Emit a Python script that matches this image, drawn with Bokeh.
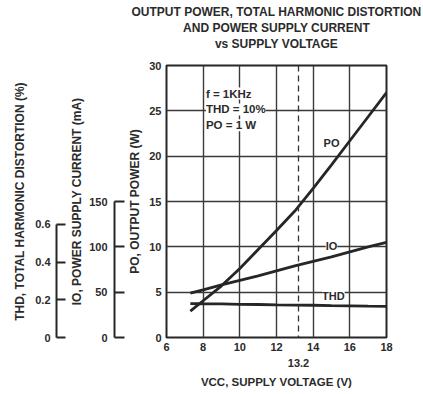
from bokeh.plotting import figure
from bokeh.models import LinearAxis, Range1d, FixedTicker, Span, Label, Title
from bokeh.embed import file_html
from bokeh.resources import INLINE

# ---- data ----
vcc = [7.3, 8, 9, 10, 11, 12, 13, 14, 15, 16, 17, 18]
po_w = [2.9, 4.05, 5.7, 7.6, 9.7, 11.8, 13.95, 16.45, 19.05, 21.7, 24.35, 27.0]
io_ma = [49, 52.5, 58, 63, 68, 73.5, 79, 84, 89, 94.5, 100, 105]
thd_pct = [0.180, 0.179, 0.178, 0.176, 0.175, 0.173, 0.172, 0.171, 0.169, 0.168, 0.166, 0.165]
vcc_ticks = [6, 8, 10, 12, 14, 16, 18]
po_ticks = [0, 5, 10, 15, 20, 25, 30]
io_ticks = [0, 50, 100, 150]
thd_ticks = [0, 0.2, 0.4, 0.6]
vcc_nominal = 13.2
title_lines = ["OUTPUT POWER, TOTAL HARMONIC DISTORTION",
               "AND POWER SUPPLY CURRENT",
               "vs SUPPLY VOLTAGE"]
conditions = ["f = 1KHz", "THD = 10%", "PO = 1 W"]

FONT = "Liberation Sans"
TXT = "#2b2b2b"
INK = "#262626"

p = figure(width=423, height=394, output_backend="svg", toolbar_location=None,
           x_range=Range1d(6, 18), y_range=Range1d(0, 30),
           min_border_left=166, min_border_right=37, min_border_top=65,
           min_border_bottom=57)
p.background_fill_color = "white"
p.border_fill_color = "white"
p.outline_line_color = INK
p.outline_line_width = 2

p.extra_y_ranges = {"io": Range1d(0, 300), "thd": Range1d(0, 1.443)}

def style_axis(ax, size="11px"):
    ax.major_label_text_font = FONT
    ax.major_label_text_font_style = "bold"
    ax.major_label_text_font_size = size
    ax.major_label_text_color = TXT
    ax.axis_label_text_font = FONT
    ax.axis_label_text_font_style = "bold"
    ax.axis_label_text_font_size = "12px"
    ax.axis_label_text_color = TXT
    ax.minor_tick_line_color = None

def spacer(w, tick):
    # invisible axis that only reserves w pixels of room
    s = LinearAxis(ticker=FixedTicker(ticks=[tick]), major_label_overrides={tick: ""})
    s.axis_line_color = None
    s.major_tick_line_color = None
    s.minor_tick_line_color = None
    s.major_tick_out = w
    s.major_tick_in = 0
    s.major_label_standoff = 0
    return s

# main x axis
xa = p.xaxis[0]
xa.ticker = FixedTicker(ticks=vcc_ticks)
style_axis(xa)
xa.axis_line_color = None
xa.major_tick_line_color = None
xa.major_tick_out = 0
xa.major_label_standoff = 5

# second bottom axis with 13.2 label + axis title
xa2 = LinearAxis(ticker=FixedTicker(ticks=[vcc_nominal]))
style_axis(xa2)
xa2.axis_line_color = None
xa2.major_tick_line_color = None
xa2.major_tick_out = 0
xa2.major_label_standoff = 5
xa2.axis_label = "VCC, SUPPLY VOLTAGE (V)"
xa2.axis_label_standoff = 6
xa2.axis_label_text_font_size = "11.5px"
p.add_layout(xa2, "below")

# main y axis (PO)
ya = p.yaxis[0]
ya.ticker = FixedTicker(ticks=po_ticks)
style_axis(ya)
ya.axis_line_color = None
ya.major_tick_line_color = None
ya.major_tick_out = 0
ya.major_label_standoff = 5
ya.axis_label = "PO, OUTPUT POWER (W)"
ya.axis_label_standoff = 4

p.add_layout(spacer(11, 15), "left")

io_ax = LinearAxis(y_range_name="io", ticker=FixedTicker(ticks=io_ticks), bounds=(0, 150))
style_axis(io_ax)
io_ax.axis_line_color = INK
io_ax.axis_line_width = 2
io_ax.major_tick_line_color = INK
io_ax.major_tick_line_width = 2
io_ax.major_tick_in = 10
io_ax.major_tick_out = 0
io_ax.major_label_standoff = 7
io_ax.axis_label = "IO, POWER SUPPLY CURRENT (mA)"
io_ax.axis_label_standoff = 2
p.add_layout(io_ax, "left")

p.add_layout(spacer(11, 15), "left")

thd_ax = LinearAxis(y_range_name="thd", ticker=FixedTicker(ticks=thd_ticks), bounds=(0, 0.6))
style_axis(thd_ax)
thd_ax.axis_line_color = INK
thd_ax.axis_line_width = 2
thd_ax.major_tick_line_color = INK
thd_ax.major_tick_line_width = 2
thd_ax.major_tick_in = 9
thd_ax.major_tick_out = 0
thd_ax.major_label_standoff = 6
thd_ax.axis_label = "THD, TOTAL HARMONIC DISTORTION (%)"
thd_ax.axis_label_standoff = 5
p.add_layout(thd_ax, "left")

# grid
p.xgrid.ticker = FixedTicker(ticks=vcc_ticks)
p.ygrid.ticker = FixedTicker(ticks=po_ticks)
for g in (p.xgrid[0], p.ygrid[0]):
    g.grid_line_color = "#3a3a3a"
    g.grid_line_width = 1.4

# titles (closest to frame added first); an invisible spacer axis keeps the gap
p.add_layout(spacer(15, 12), "above")
for t in reversed(title_lines):
    p.add_layout(Title(text=t, align="center", text_font=FONT, text_font_style="bold",
                       text_font_size="12px", text_color=TXT, standoff=0), "above")

# dashed nominal supply line
p.add_layout(Span(location=vcc_nominal, dimension="height", line_color="#333333",
                  line_width=1.3, line_dash="6 4"))

# curves
p.line(vcc, po_w, line_color=INK, line_width=2.8)
p.line(vcc, io_ma, y_range_name="io", line_color=INK, line_width=2.8)
p.line(vcc, thd_pct, y_range_name="thd", line_color=INK, line_width=2.8)

def lab(x, y, text, rng="default", **kw):
    p.add_layout(Label(x=x, y=y, y_range_name=rng, text=text, text_font=FONT,
                       text_font_style="bold", text_font_size="11px", text_color=TXT,
                       background_fill_color="white", text_align="center",
                       text_baseline="middle", **kw))

lab(15.0, 21.5, "PO")
lab(15.0, 101, "IO", rng="io")
lab(15.1, 0.221, "THD", rng="thd")

for i, c in enumerate(conditions):
    p.add_layout(Label(x=8.15, y=26.9 - 1.75 * i, text=c, text_font=FONT,
                       text_font_style="bold", text_font_size="11.5px", text_color=TXT,
                       background_fill_color="white", text_align="left",
                       text_baseline="middle"))

open("out.html", "w").write(file_html(p, INLINE))
